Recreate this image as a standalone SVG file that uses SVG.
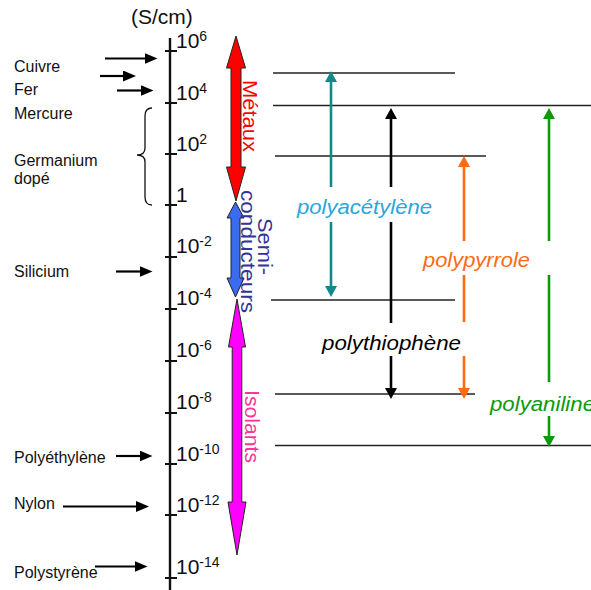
<svg xmlns="http://www.w3.org/2000/svg" width="591" height="590" viewBox="0 0 591 590">
<defs>
<style>
.lbl{font-family:"Liberation Sans",Arial,sans-serif;font-size:16px;fill:#111}
.ax{font-family:"Liberation Sans",Arial,sans-serif;font-size:21px;fill:#111}
.sup{font-size:14px}
.poly{font-family:"Liberation Sans",Arial,sans-serif;font-size:20px;font-style:italic}
.rot{font-family:"Liberation Sans",Arial,sans-serif;font-size:21px}
.lvl{stroke:#222;stroke-width:1.6;fill:none}
.tick{stroke:#111;stroke-width:2}
.bl{stroke:#000;stroke-width:2.2;fill:none}
.big{stroke:#222;stroke-width:1}
</style>
<marker id="hk" markerUnits="userSpaceOnUse" markerWidth="13" markerHeight="11" refX="6" refY="5.5" orient="auto"><path d="M0,0 L13,5.5 L0,11 Z" fill="#000"/></marker>
<marker id="hteal" markerUnits="userSpaceOnUse" markerWidth="12" markerHeight="12" refX="6" refY="6" orient="auto"><path d="M0,0 L11,6 L0,12 Z" fill="#138a8a"/></marker>
<marker id="hblack" markerUnits="userSpaceOnUse" markerWidth="12" markerHeight="12" refX="6" refY="6" orient="auto"><path d="M0,0 L11,6 L0,12 Z" fill="#000"/></marker>
<marker id="horange" markerUnits="userSpaceOnUse" markerWidth="12" markerHeight="12" refX="6" refY="6" orient="auto"><path d="M0,0 L11,6 L0,12 Z" fill="#ff6a13"/></marker>
<marker id="hgreen" markerUnits="userSpaceOnUse" markerWidth="12" markerHeight="12" refX="6" refY="6" orient="auto"><path d="M0,0 L11,6 L0,12 Z" fill="#0a9a0a"/></marker>
</defs>
<rect width="591" height="590" fill="#fff"/>

<g id="axis">
<text class="ax" x="131" y="24" font-size="20">(S/cm)</text>
<line x1="170" y1="38" x2="170" y2="590" stroke="#111" stroke-width="2.4"/>
<g class="tick">
<line x1="165" y1="51" x2="177" y2="51"/>
<line x1="165" y1="103" x2="177" y2="103"/>
<line x1="165" y1="154" x2="177" y2="154"/>
<line x1="165" y1="205" x2="177" y2="205"/>
<line x1="165" y1="257" x2="177" y2="257"/>
<line x1="165" y1="309" x2="177" y2="309"/>
<line x1="165" y1="361" x2="177" y2="361"/>
<line x1="165" y1="413" x2="177" y2="413"/>
<line x1="165" y1="464" x2="177" y2="464"/>
<line x1="165" y1="515" x2="177" y2="515"/>
<line x1="165" y1="578" x2="177" y2="578"/>
</g>
<text class="ax" x="176" y="48">10<tspan class="sup" dy="-7">6</tspan></text>
<text class="ax" x="176" y="100">10<tspan class="sup" dy="-7">4</tspan></text>
<text class="ax" x="176" y="151">10<tspan class="sup" dy="-7">2</tspan></text>
<text class="ax" x="176" y="202">1</text>
<text class="ax" x="176" y="253">10<tspan class="sup" dy="-7">-2</tspan></text>
<text class="ax" x="176" y="305">10<tspan class="sup" dy="-7">-4</tspan></text>
<text class="ax" x="176" y="357">10<tspan class="sup" dy="-7">-6</tspan></text>
<text class="ax" x="176" y="409">10<tspan class="sup" dy="-7">-8</tspan></text>
<text class="ax" x="176" y="461">10<tspan class="sup" dy="-7">-10</tspan></text>
<text class="ax" x="176" y="512">10<tspan class="sup" dy="-7">-12</tspan></text>
<text class="ax" x="176" y="574">10<tspan class="sup" dy="-7">-14</tspan></text>
</g>

<g id="materials">
<text class="lbl" x="14" y="72">Cuivre</text>
<text class="lbl" x="14" y="95">Fer</text>
<text class="lbl" x="14" y="119">Mercure</text>
<text class="lbl" x="14" y="166">Germanium</text>
<text class="lbl" x="14" y="184">dopé</text>
<text class="lbl" x="14" y="277">Silicium</text>
<text class="lbl" x="14" y="463">Polyéthylène</text>
<text class="lbl" x="14" y="509">Nylon</text>
<text class="lbl" x="14" y="578">Polystyrène</text>
<path d="M152,108 Q145,108 145,116 L145,148 Q145,155 137,155 Q145,155 145,162 L145,197 Q145,205 152,205" fill="none" stroke="#111" stroke-width="1.3"/>
</g>

<g id="connectors">
<line class="bl" x1="105" y1="58.5" x2="150.5" y2="58.5" marker-end="url(#hk)"/>
<line class="bl" x1="100" y1="76" x2="129" y2="76" marker-end="url(#hk)"/>
<line class="bl" x1="117" y1="90.5" x2="146.5" y2="90.5" marker-end="url(#hk)"/>
<line class="bl" x1="116" y1="271.5" x2="145.5" y2="271.5" marker-end="url(#hk)"/>
<line class="bl" x1="116" y1="456" x2="145.5" y2="456" marker-end="url(#hk)"/>
<line class="bl" x1="63" y1="506.5" x2="142" y2="506.5" marker-end="url(#hk)"/>
<line class="bl" x1="95" y1="566.5" x2="140.5" y2="566.5" marker-end="url(#hk)"/>
</g>

<g id="metaux">
<path class="big" fill="#ff0000" d="M236,36 L245.5,68 L241,68 L241,167 L245.5,167 L236,201 L226.5,167 L231,167 L231,68 L226.5,68 Z"/>
<text class="rot" fill="#ff0000" transform="translate(242.5,116) rotate(90)" text-anchor="middle" textLength="72" lengthAdjust="spacingAndGlyphs">Métaux</text>
</g>
<g id="semiconducteurs">
<path class="big" fill="#3a6cf0" d="M235.5,202 L244,218 L240,218 L240,278 L244,278 L235.5,297 L227,278 L231,278 L231,218 L227,218 Z"/>
<text class="rot" fill="#333399" transform="translate(258,246.5) rotate(90)" text-anchor="middle" textLength="57" lengthAdjust="spacingAndGlyphs">Semi-</text>
<text class="rot" fill="#333399" transform="translate(240.5,251.5) rotate(90)" text-anchor="middle" textLength="123" lengthAdjust="spacingAndGlyphs">conducteurs</text>
</g>
<g id="isolants">
<path class="big" fill="#ff00ff" d="M237,299 L245.5,347 L241.8,347 L241.8,502 L246,502 L237,555 L228,502 L232.2,502 L232.2,347 L228.5,347 Z"/>
<text class="rot" fill="#ff3399" transform="translate(245,426.5) rotate(90)" text-anchor="middle" textLength="73" lengthAdjust="spacingAndGlyphs">Isolants</text>
</g>

<g id="levels">
<line class="lvl" x1="273" y1="73" x2="455" y2="73"/>
<line class="lvl" x1="273" y1="105.5" x2="591" y2="105.5"/>
<line class="lvl" x1="275" y1="156" x2="486" y2="156"/>
<line class="lvl" x1="271" y1="300" x2="455" y2="300"/>
<line class="lvl" x1="275" y1="394" x2="475" y2="394"/>
<line class="lvl" x1="275" y1="445.5" x2="591" y2="445.5"/>
</g>

<g id="polyacetylene">
<line x1="331" y1="187" x2="331" y2="76" stroke="#138a8a" stroke-width="2.6" marker-end="url(#hteal)"/>
<line x1="331" y1="222" x2="331" y2="292" stroke="#138a8a" stroke-width="2.6" marker-end="url(#hteal)"/>
<text class="poly" fill="#2aa6dc" x="297" y="214" textLength="135" lengthAdjust="spacingAndGlyphs">polyacétylène</text>
</g>
<g id="polythiophene">
<line x1="391" y1="187" x2="391" y2="113" stroke="#000" stroke-width="2.6" marker-end="url(#hblack)"/>
<line x1="391" y1="222" x2="391" y2="323" stroke="#000" stroke-width="2.6"/>
<line x1="391" y1="356" x2="391" y2="394" stroke="#000" stroke-width="2.6" marker-end="url(#hblack)"/>
<text class="poly" fill="#000" x="322" y="350" textLength="139" lengthAdjust="spacingAndGlyphs">polythiophène</text>
</g>
<g id="polypyrrole">
<line x1="464" y1="241" x2="464" y2="161" stroke="#ff6a13" stroke-width="2.6" marker-end="url(#horange)"/>
<line x1="464" y1="275" x2="464" y2="322" stroke="#ff6a13" stroke-width="2.6"/>
<line x1="464" y1="356" x2="464" y2="394" stroke="#ff6a13" stroke-width="2.6" marker-end="url(#horange)"/>
<text class="poly" fill="#ff6a13" x="423" y="267" textLength="107" lengthAdjust="spacingAndGlyphs">polypyrrole</text>
</g>
<g id="polyaniline">
<line x1="549" y1="241" x2="549" y2="113" stroke="#0a9a0a" stroke-width="2.6" marker-end="url(#hgreen)"/>
<line x1="549" y1="275" x2="549" y2="382" stroke="#0a9a0a" stroke-width="2.6"/>
<line x1="549" y1="416" x2="549" y2="442" stroke="#0a9a0a" stroke-width="2.6" marker-end="url(#hgreen)"/>
<text class="poly" fill="#0a9a0a" x="490" y="411" textLength="105" lengthAdjust="spacingAndGlyphs">polyaniline</text>
</g>
</svg>
